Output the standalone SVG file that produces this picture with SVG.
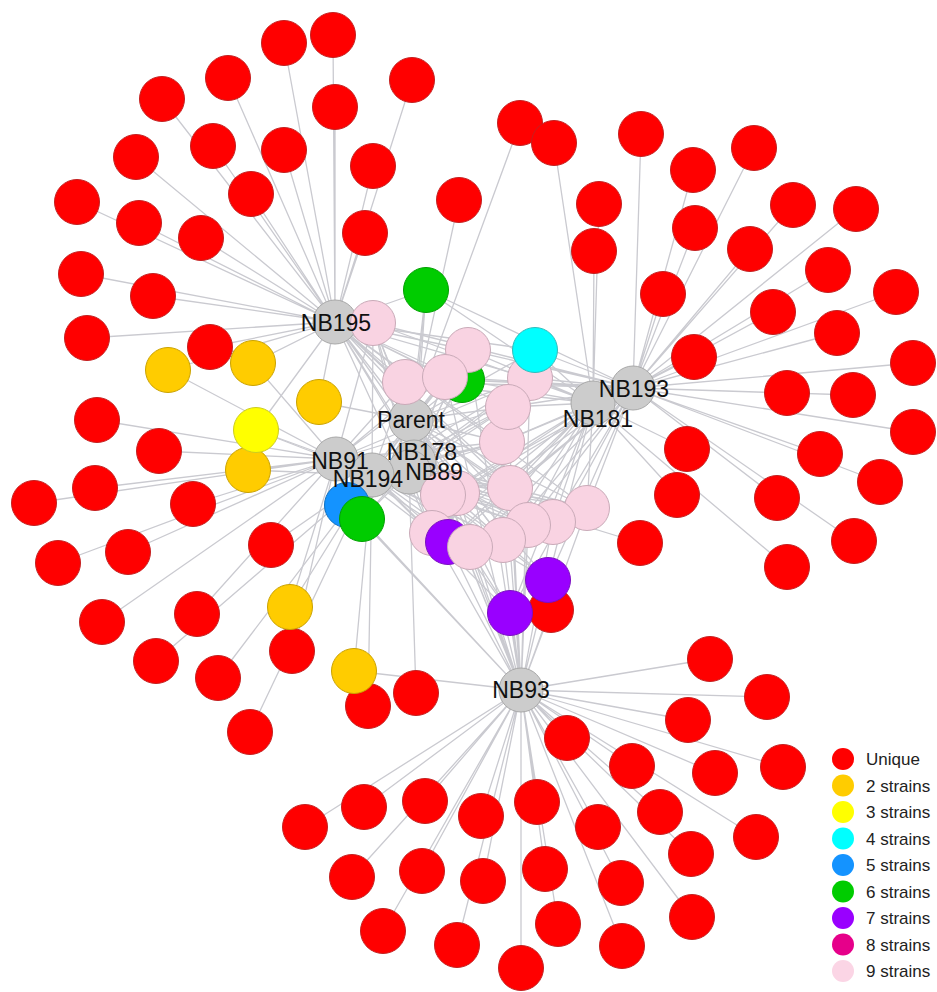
<svg xmlns="http://www.w3.org/2000/svg" width="937" height="992" viewBox="0 0 937 992">
<style>
  .e{fill:none;stroke:#cacad0;stroke-width:1.3}
  .u{fill:#ff0000;stroke:#c42020;stroke-width:1}
  .s2{fill:#ffcc00;stroke:#caa200;stroke-width:1}
  .s3{fill:#ffff00;stroke:#cccc20;stroke-width:1}
  .s4{fill:#00ffff;stroke:#30bcbc;stroke-width:1}
  .s5{fill:#1493ff;stroke:#1070c0;stroke-width:1}
  .s6{fill:#00cc00;stroke:#00a000;stroke-width:1}
  .s7{fill:#9900ff;stroke:#7a10c0;stroke-width:1}
  .s9{fill:#f9d3e2;stroke:#c9aab8;stroke-width:1}
  .hub{fill:#cccccc;stroke:#a8a8a8;stroke-width:1}
  .hl{font-family:"Liberation Sans",Arial,sans-serif;font-size:23px;fill:#111;text-anchor:middle}
  .lg{font-family:"Liberation Sans",Arial,sans-serif;font-size:17px;fill:#222}
</style>
<defs>
  <circle id="dot" r="22.5"/>
</defs>
<rect width="937" height="992" fill="#ffffff"/>

<!-- edges: one path of spokes per hub -->
<g id="edges">
<path id="e-NB195" class="e" d="M335 322L333 35M335 322L284 43M335 322L228 78M335 322L162 99M335 322L412 80M335 322L335 107M335 322L136 157M335 322L213 146M335 322L284 150M335 322L373 166M335 322L251 194M335 322L77 202M335 322L139 223M335 322L201 238M335 322L365 233M335 322L81 274M335 322L153 296M335 322L87 338M335 322L210 347M335 322L168 370M335 322L253 363M335 322L319 402M335 322L256 430M335 322L426 290M335 322L462 380M335 322L535 350M335 322L373 323M335 322L468 350M335 322L405 382M335 322L445 377M335 322L530 378M335 322L508 407M335 322L502 442M335 322L510 488M335 322L443 495M335 322L457 493M335 322L587 508M335 322L553 522M335 322L528 525M335 322L503 540M335 322L470 547M335 322L432 533"/>
<path id="e-Parent" class="e" d="M411 420L459 200M411 420L520 123M411 420L319 402M411 420L426 290M411 420L462 380M411 420L362 519M411 420L535 350M411 420L347 505M411 420L448 542M411 420L548 580M411 420L510 613M411 420L373 323M411 420L468 350M411 420L405 382M411 420L445 377M411 420L530 378M411 420L508 407M411 420L502 442M411 420L510 488M411 420L443 495M411 420L457 493M411 420L587 508M411 420L553 522M411 420L528 525M411 420L503 540M411 420L470 547M411 420L432 533"/>
<path id="e-NB91" class="e" d="M336 459L97 420M336 459L159 451M336 459L95 488M336 459L34 503M336 459L193 504M336 459L128 552M336 459L58 563M336 459L102 622M336 459L197 614M336 459L292 651M336 459L168 370M336 459L253 363M336 459L248 470M336 459L290 607M336 459L256 430M336 459L362 519M336 459L347 505M336 459L373 323M336 459L468 350M336 459L405 382M336 459L445 377M336 459L530 378M336 459L508 407M336 459L502 442M336 459L510 488M336 459L443 495M336 459L457 493M336 459L587 508M336 459L553 522M336 459L528 525M336 459L503 540M336 459L470 547M336 459L432 533"/>
<path id="e-NB194" class="e" d="M372 475L271 545M372 475L156 661M372 475L218 678M372 475L250 732M372 475L368 706M372 475L248 470M372 475L290 607M372 475L354 671M372 475L256 430M372 475L362 519M372 475L347 505M372 475L448 542M372 475L548 580M372 475L510 613M372 475L373 323M372 475L468 350M372 475L405 382M372 475L445 377M372 475L530 378M372 475L508 407M372 475L502 442M372 475L510 488M372 475L443 495M372 475L457 493M372 475L587 508M372 475L553 522M372 475L528 525M372 475L503 540M372 475L470 547M372 475L432 533"/>
<path id="e-NB178" class="e" d="M414 462L426 290M414 462L462 380M414 462L362 519M414 462L448 542M414 462L548 580M414 462L510 613M414 462L373 323M414 462L468 350M414 462L405 382M414 462L445 377M414 462L530 378M414 462L508 407M414 462L502 442M414 462L510 488M414 462L443 495M414 462L457 493M414 462L587 508M414 462L553 522M414 462L528 525M414 462L503 540M414 462L470 547M414 462L432 533"/>
<path id="e-NB89" class="e" d="M409 472L416 693M409 472L640 543M409 472L426 290M409 472L462 380M409 472L362 519M409 472L347 505M409 472L448 542M409 472L548 580M409 472L510 613M409 472L373 323M409 472L468 350M409 472L405 382M409 472L445 377M409 472L530 378M409 472L508 407M409 472L502 442M409 472L510 488M409 472L443 495M409 472L457 493M409 472L587 508M409 472L553 522M409 472L528 525M409 472L503 540M409 472L470 547M409 472L432 533"/>
<path id="e-NB181" class="e" d="M593 403L554 143M593 403L599 204M593 403L594 251M593 403L687 449M593 403L677 495M593 403L787 567M593 403L426 290M593 403L462 380M593 403L535 350M593 403L448 542M593 403L548 580M593 403L510 613M593 403L373 323M593 403L468 350M593 403L405 382M593 403L445 377M593 403L530 378M593 403L508 407M593 403L502 442M593 403L510 488M593 403L443 495M593 403L457 493M593 403L587 508M593 403L553 522M593 403L528 525M593 403L503 540M593 403L470 547M593 403L432 533"/>
<path id="e-NB193" class="e" d="M633 388L641 134M633 388L754 148M633 388L693 170M633 388L695 228M633 388L793 205M633 388L856 209M633 388L750 249M633 388L828 270M633 388L663 294M633 388L896 292M633 388L773 312M633 388L837 333M633 388L694 357M633 388L913 363M633 388L787 393M633 388L853 395M633 388L913 432M633 388L820 454M633 388L777 498M633 388L880 482M633 388L854 541M633 388L426 290M633 388L462 380M633 388L535 350M633 388L448 542M633 388L548 580M633 388L510 613M633 388L373 323M633 388L468 350M633 388L405 382M633 388L445 377M633 388L530 378M633 388L508 407M633 388L502 442M633 388L510 488M633 388L443 495M633 388L457 493M633 388L587 508M633 388L553 522M633 388L528 525M633 388L503 540M633 388L470 547M633 388L432 533"/>
<path id="e-NB93" class="e" d="M521 690L710 659M521 690L767 697M521 690L688 720M521 690L567 738M521 690L632 766M521 690L715 773M521 690L783 767M521 690L660 812M521 690L756 837M521 690L598 827M521 690L537 802M521 690L481 816M521 690L425 801M521 690L364 807M521 690L305 827M521 690L691 854M521 690L621 883M521 690L545 869M521 690L483 881M521 690L422 871M521 690L352 877M521 690L692 917M521 690L558 924M521 690L622 946M521 690L457 945M521 690L383 931M521 690L521 968M521 690L551 610M521 690L354 671M521 690L362 519M521 690L347 505M521 690L448 542M521 690L548 580M521 690L510 613M521 690L373 323M521 690L468 350M521 690L405 382M521 690L445 377M521 690L530 378M521 690L508 407M521 690L502 442M521 690L510 488M521 690L443 495M521 690L457 493M521 690L587 508M521 690L553 522M521 690L528 525M521 690L503 540M521 690L470 547M521 690L432 533"/>
</g>

<!-- unique (single-strain) nodes -->
<g id="unique">
<g id="u1"><use href="#dot" class="u" x="333" y="35"/></g>
<g id="u2"><use href="#dot" class="u" x="284" y="43"/></g>
<g id="u3"><use href="#dot" class="u" x="228" y="78"/></g>
<g id="u4"><use href="#dot" class="u" x="162" y="99"/></g>
<g id="u5"><use href="#dot" class="u" x="412" y="80"/></g>
<g id="u6"><use href="#dot" class="u" x="335" y="107"/></g>
<g id="u7"><use href="#dot" class="u" x="136" y="157"/></g>
<g id="u8"><use href="#dot" class="u" x="213" y="146"/></g>
<g id="u9"><use href="#dot" class="u" x="284" y="150"/></g>
<g id="u10"><use href="#dot" class="u" x="373" y="166"/></g>
<g id="u11"><use href="#dot" class="u" x="251" y="194"/></g>
<g id="u12"><use href="#dot" class="u" x="77" y="202"/></g>
<g id="u13"><use href="#dot" class="u" x="139" y="223"/></g>
<g id="u14"><use href="#dot" class="u" x="201" y="238"/></g>
<g id="u15"><use href="#dot" class="u" x="365" y="233"/></g>
<g id="u16"><use href="#dot" class="u" x="81" y="274"/></g>
<g id="u17"><use href="#dot" class="u" x="153" y="296"/></g>
<g id="u18"><use href="#dot" class="u" x="87" y="338"/></g>
<g id="u19"><use href="#dot" class="u" x="210" y="347"/></g>
<g id="u20"><use href="#dot" class="u" x="459" y="200"/></g>
<g id="u21"><use href="#dot" class="u" x="520" y="123"/></g>
<g id="u22"><use href="#dot" class="u" x="97" y="420"/></g>
<g id="u23"><use href="#dot" class="u" x="159" y="451"/></g>
<g id="u24"><use href="#dot" class="u" x="95" y="488"/></g>
<g id="u25"><use href="#dot" class="u" x="34" y="503"/></g>
<g id="u26"><use href="#dot" class="u" x="193" y="504"/></g>
<g id="u27"><use href="#dot" class="u" x="128" y="552"/></g>
<g id="u28"><use href="#dot" class="u" x="58" y="563"/></g>
<g id="u29"><use href="#dot" class="u" x="102" y="622"/></g>
<g id="u30"><use href="#dot" class="u" x="197" y="614"/></g>
<g id="u31"><use href="#dot" class="u" x="292" y="651"/></g>
<g id="u32"><use href="#dot" class="u" x="271" y="545"/></g>
<g id="u33"><use href="#dot" class="u" x="156" y="661"/></g>
<g id="u34"><use href="#dot" class="u" x="218" y="678"/></g>
<g id="u35"><use href="#dot" class="u" x="250" y="732"/></g>
<g id="u36"><use href="#dot" class="u" x="368" y="706"/></g>
<g id="u37"><use href="#dot" class="u" x="416" y="693"/></g>
<g id="u38"><use href="#dot" class="u" x="640" y="543"/></g>
<g id="u39"><use href="#dot" class="u" x="554" y="143"/></g>
<g id="u40"><use href="#dot" class="u" x="599" y="204"/></g>
<g id="u41"><use href="#dot" class="u" x="594" y="251"/></g>
<g id="u42"><use href="#dot" class="u" x="687" y="449"/></g>
<g id="u43"><use href="#dot" class="u" x="677" y="495"/></g>
<g id="u44"><use href="#dot" class="u" x="787" y="567"/></g>
<g id="u45"><use href="#dot" class="u" x="641" y="134"/></g>
<g id="u46"><use href="#dot" class="u" x="754" y="148"/></g>
<g id="u47"><use href="#dot" class="u" x="693" y="170"/></g>
<g id="u48"><use href="#dot" class="u" x="695" y="228"/></g>
<g id="u49"><use href="#dot" class="u" x="793" y="205"/></g>
<g id="u50"><use href="#dot" class="u" x="856" y="209"/></g>
<g id="u51"><use href="#dot" class="u" x="750" y="249"/></g>
<g id="u52"><use href="#dot" class="u" x="828" y="270"/></g>
<g id="u53"><use href="#dot" class="u" x="663" y="294"/></g>
<g id="u54"><use href="#dot" class="u" x="896" y="292"/></g>
<g id="u55"><use href="#dot" class="u" x="773" y="312"/></g>
<g id="u56"><use href="#dot" class="u" x="837" y="333"/></g>
<g id="u57"><use href="#dot" class="u" x="694" y="357"/></g>
<g id="u58"><use href="#dot" class="u" x="913" y="363"/></g>
<g id="u59"><use href="#dot" class="u" x="787" y="393"/></g>
<g id="u60"><use href="#dot" class="u" x="853" y="395"/></g>
<g id="u61"><use href="#dot" class="u" x="913" y="432"/></g>
<g id="u62"><use href="#dot" class="u" x="820" y="454"/></g>
<g id="u63"><use href="#dot" class="u" x="777" y="498"/></g>
<g id="u64"><use href="#dot" class="u" x="880" y="482"/></g>
<g id="u65"><use href="#dot" class="u" x="854" y="541"/></g>
<g id="u66"><use href="#dot" class="u" x="710" y="659"/></g>
<g id="u67"><use href="#dot" class="u" x="767" y="697"/></g>
<g id="u68"><use href="#dot" class="u" x="688" y="720"/></g>
<g id="u69"><use href="#dot" class="u" x="567" y="738"/></g>
<g id="u70"><use href="#dot" class="u" x="632" y="766"/></g>
<g id="u71"><use href="#dot" class="u" x="715" y="773"/></g>
<g id="u72"><use href="#dot" class="u" x="783" y="767"/></g>
<g id="u73"><use href="#dot" class="u" x="660" y="812"/></g>
<g id="u74"><use href="#dot" class="u" x="756" y="837"/></g>
<g id="u75"><use href="#dot" class="u" x="598" y="827"/></g>
<g id="u76"><use href="#dot" class="u" x="537" y="802"/></g>
<g id="u77"><use href="#dot" class="u" x="481" y="816"/></g>
<g id="u78"><use href="#dot" class="u" x="425" y="801"/></g>
<g id="u79"><use href="#dot" class="u" x="364" y="807"/></g>
<g id="u80"><use href="#dot" class="u" x="305" y="827"/></g>
<g id="u81"><use href="#dot" class="u" x="691" y="854"/></g>
<g id="u82"><use href="#dot" class="u" x="621" y="883"/></g>
<g id="u83"><use href="#dot" class="u" x="545" y="869"/></g>
<g id="u84"><use href="#dot" class="u" x="483" y="881"/></g>
<g id="u85"><use href="#dot" class="u" x="422" y="871"/></g>
<g id="u86"><use href="#dot" class="u" x="352" y="877"/></g>
<g id="u87"><use href="#dot" class="u" x="692" y="917"/></g>
<g id="u88"><use href="#dot" class="u" x="558" y="924"/></g>
<g id="u89"><use href="#dot" class="u" x="622" y="946"/></g>
<g id="u90"><use href="#dot" class="u" x="457" y="945"/></g>
<g id="u91"><use href="#dot" class="u" x="383" y="931"/></g>
<g id="u92"><use href="#dot" class="u" x="521" y="968"/></g>
<g id="u93"><use href="#dot" class="u" x="551" y="610"/></g>
</g>

<!-- strain hubs (circles; names are in the label layer above the nodes) -->
<g id="hubs">
<g id="NB181"><circle class="hub" cx="593" cy="403" r="22"/></g>
<g id="NB193"><circle class="hub" cx="633" cy="388" r="22"/></g>
<g id="NB195"><circle class="hub" cx="335" cy="322" r="22"/></g>
<g id="Parent"><circle class="hub" cx="411" cy="420" r="22"/></g>
<g id="NB91"><circle class="hub" cx="336" cy="459" r="22"/></g>
<g id="NB178"><circle class="hub" cx="414" cy="462" r="22"/></g>
<g id="NB89"><circle class="hub" cx="409" cy="472" r="22"/></g>
<g id="NB194"><circle class="hub" cx="372" cy="475" r="22"/></g>
<g id="NB93"><circle class="hub" cx="521" cy="690" r="22"/></g>
</g>

<!-- shared nodes, coloured by number of strains -->
<g id="shared">
<g id="s2-1"><use href="#dot" class="s2" x="168" y="370"/></g>
<g id="s2-2"><use href="#dot" class="s2" x="253" y="363"/></g>
<g id="s2-3"><use href="#dot" class="s2" x="319" y="402"/></g>
<g id="s2-4"><use href="#dot" class="s2" x="248" y="470"/></g>
<g id="s3-1"><use href="#dot" class="s3" x="256" y="430"/></g>
<g id="s2-5"><use href="#dot" class="s2" x="290" y="607"/></g>
<g id="s2-6"><use href="#dot" class="s2" x="354" y="671"/></g>
<g id="s5-1"><use href="#dot" class="s5" x="347" y="505"/></g>
<g id="s6-1"><use href="#dot" class="s6" x="362" y="519"/></g>
<g id="s6-2"><use href="#dot" class="s6" x="426" y="290"/></g>
<g id="s6-3"><use href="#dot" class="s6" x="462" y="380"/></g>
<g id="s9-1"><use href="#dot" class="s9" x="373" y="323"/></g>
<g id="s9-2"><use href="#dot" class="s9" x="468" y="350"/></g>
<g id="s9-3"><use href="#dot" class="s9" x="530" y="378"/></g>
<g id="s9-4"><use href="#dot" class="s9" x="405" y="382"/></g>
<g id="s9-5"><use href="#dot" class="s9" x="445" y="377"/></g>
<g id="s9-6"><use href="#dot" class="s9" x="502" y="442"/></g>
<g id="s9-7"><use href="#dot" class="s9" x="508" y="407"/></g>
<g id="s9-8"><use href="#dot" class="s9" x="510" y="488"/></g>
<g id="s9-9"><use href="#dot" class="s9" x="457" y="493"/></g>
<g id="s9-10"><use href="#dot" class="s9" x="443" y="495"/></g>
<g id="s9-11"><use href="#dot" class="s9" x="587" y="508"/></g>
<g id="s9-12"><use href="#dot" class="s9" x="553" y="522"/></g>
<g id="s9-13"><use href="#dot" class="s9" x="528" y="525"/></g>
<g id="s9-14"><use href="#dot" class="s9" x="432" y="533"/></g>
<g id="s7-1"><use href="#dot" class="s7" x="448" y="542"/></g>
<g id="s9-15"><use href="#dot" class="s9" x="503" y="540"/></g>
<g id="s9-16"><use href="#dot" class="s9" x="470" y="547"/></g>
<g id="s4-1"><use href="#dot" class="s4" x="535" y="350"/></g>
<g id="s7-2"><use href="#dot" class="s7" x="548" y="580"/></g>
<g id="s7-3"><use href="#dot" class="s7" x="510" y="613"/></g>
</g>

<!-- hub names, drawn over every circle -->
<g id="hub-labels" class="hl">
<text id="NB181-label" x="598" y="427">NB181</text>
<text id="NB193-label" x="634" y="397">NB193</text>
<text id="NB195-label" x="336" y="331">NB195</text>
<text id="Parent-label" x="411" y="428">Parent</text>
<text id="NB91-label" x="340" y="469">NB91</text>
<text id="NB178-label" x="422" y="460">NB178</text>
<text id="NB89-label" x="434" y="480">NB89</text>
<text id="NB194-label" x="368" y="487">NB194</text>
<text id="NB93-label" x="521" y="698">NB93</text>
</g>

<!-- legend -->
<g id="legend">
<circle cx="843" cy="759" r="11" fill="#ff0000"/><text class="lg" x="866" y="765">Unique</text>
<circle cx="843" cy="785.5" r="11" fill="#ffcc00"/><text class="lg" x="866" y="791.5">2 strains</text>
<circle cx="843" cy="812" r="11" fill="#ffff00"/><text class="lg" x="866" y="818">3 strains</text>
<circle cx="843" cy="838.5" r="11" fill="#00ffff"/><text class="lg" x="866" y="844.5">4 strains</text>
<circle cx="843" cy="865" r="11" fill="#1493ff"/><text class="lg" x="866" y="871">5 strains</text>
<circle cx="843" cy="891.5" r="11" fill="#00cc00"/><text class="lg" x="866" y="897.5">6 strains</text>
<circle cx="843" cy="918" r="11" fill="#9900ff"/><text class="lg" x="866" y="924">7 strains</text>
<circle cx="843" cy="944.5" r="11" fill="#e6008a"/><text class="lg" x="866" y="950.5">8 strains</text>
<circle cx="843" cy="971" r="11" fill="#fbd5e5"/><text class="lg" x="866" y="977">9 strains</text>
</g>
</svg>
